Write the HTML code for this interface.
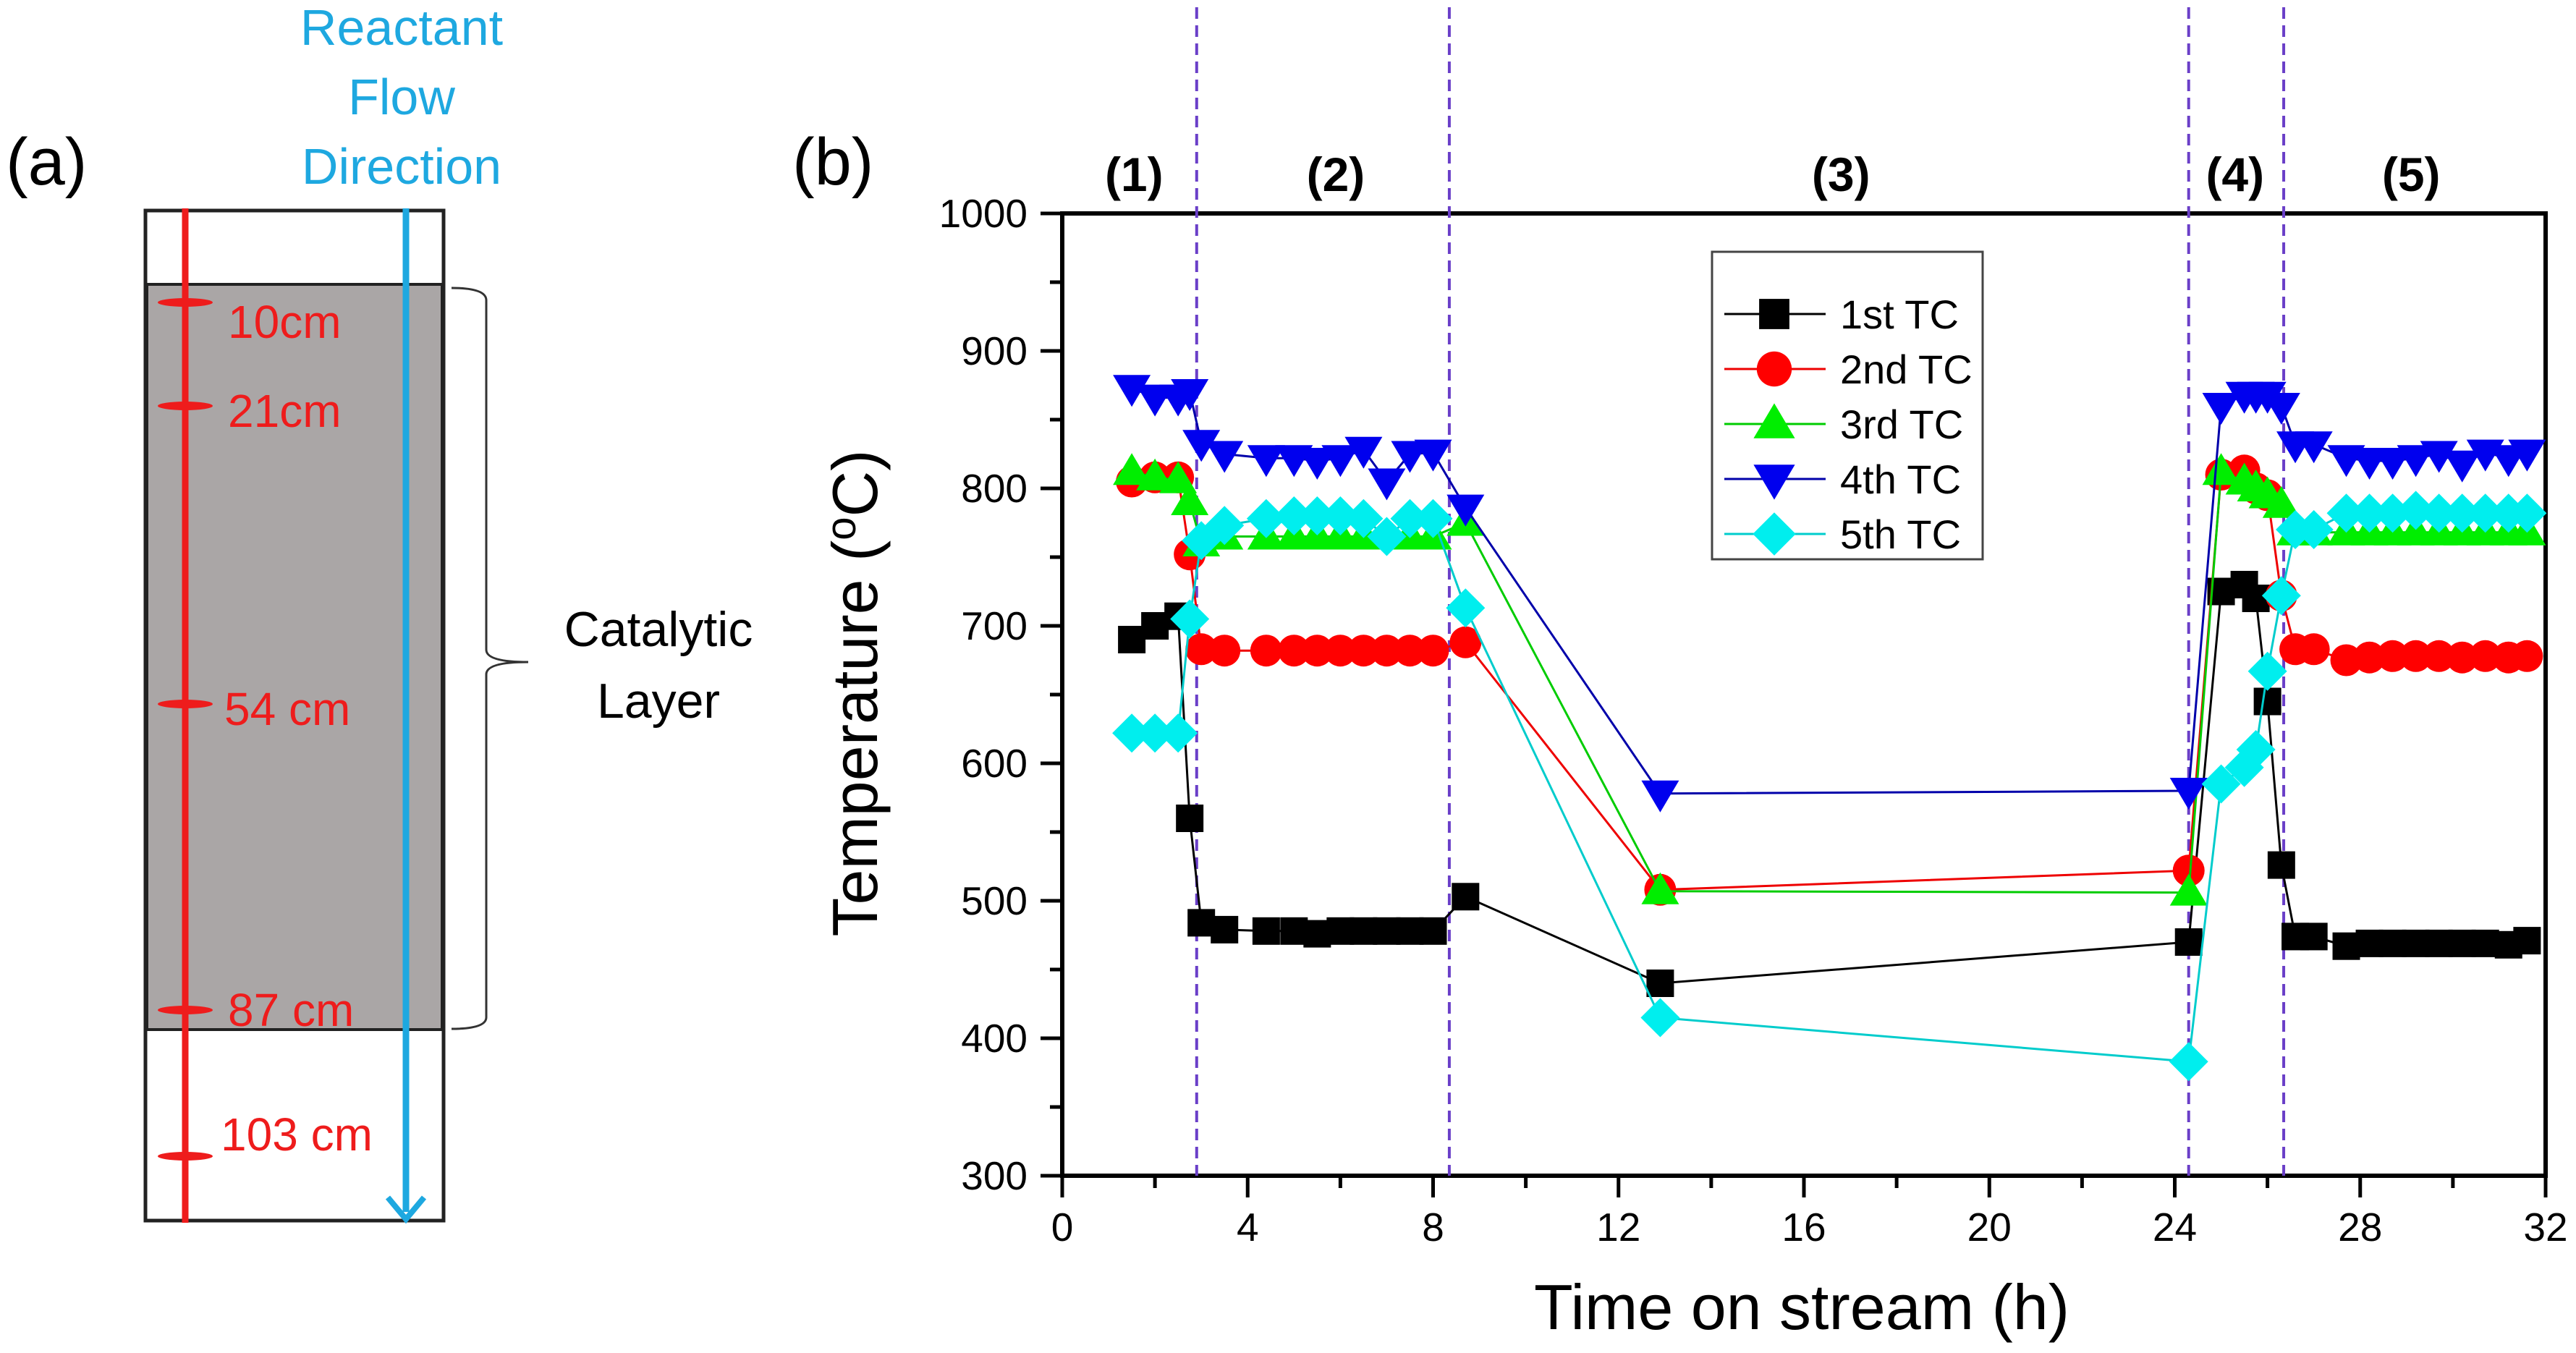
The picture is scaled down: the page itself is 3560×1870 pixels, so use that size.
<!DOCTYPE html>
<html><head><meta charset="utf-8"><style>
html,body{margin:0;padding:0;background:#fff;}
svg{display:block;font-family:"Liberation Sans",sans-serif;}
</style></head><body>
<svg id="fig" width="3560" height="1870" viewBox="0 0 3560 1870" xmlns="http://www.w3.org/2000/svg">
<g>
  <text x="8" y="255" font-size="92">(a)</text>
  <text x="555" y="62" font-size="70" fill="#1ea8e0" text-anchor="middle">Reactant</text>
  <text x="555" y="158" font-size="70" fill="#1ea8e0" text-anchor="middle">Flow</text>
  <text x="555" y="254" font-size="70" fill="#1ea8e0" text-anchor="middle">Direction</text>
  <rect x="201" y="291" width="412" height="1396" fill="#fff" stroke="#222" stroke-width="5"/>
  <rect x="203" y="393" width="408" height="1030" fill="#aaa6a6" stroke="#222" stroke-width="4"/>
  <line x1="256" y1="288" x2="256" y2="1690" stroke="#ee1c1c" stroke-width="9"/>
  <line x1="561" y1="288" x2="561" y2="1675" stroke="#1ea8e0" stroke-width="9"/>
  <polyline points="536,1655 561,1685 586,1655" fill="none" stroke="#1ea8e0" stroke-width="8"/>
  <g fill="#ee1c1c">
    <ellipse cx="256" cy="418" rx="38" ry="6"/>
    <ellipse cx="256" cy="561" rx="38" ry="6"/>
    <ellipse cx="256" cy="973" rx="38" ry="6"/>
    <ellipse cx="256" cy="1396" rx="38" ry="6"/>
    <ellipse cx="256" cy="1598" rx="38" ry="6"/>
  </g>
  <g fill="#ee1c1c" font-size="64">
    <text x="315" y="467">10cm</text>
    <text x="315" y="590">21cm</text>
    <text x="310" y="1002">54 cm</text>
    <text x="315" y="1418">87 cm</text>
    <text x="305" y="1590">103 cm</text>
  </g>
  <path d="M624,398 Q672,398 672,415 L672,898 Q672,915 730,915 Q672,915 672,932 L672,1406 Q672,1422 624,1422" fill="none" stroke="#333" stroke-width="3"/>
  <text x="910" y="893" font-size="68" text-anchor="middle">Catalytic</text>
  <text x="910" y="992" font-size="68" text-anchor="middle">Layer</text>
</g>
<g id="panelb">
  <text x="1095" y="255" font-size="92">(b)</text>
</g>
</svg>
<script>
const times = [1.5,2.0,2.5,2.75,3.0,3.5,4.4,5.0,5.5,6.0,6.5,7.0,7.5,8.0,8.7,12.9,24.3,25.0,25.5,25.75,26.0,26.3,26.6,27.0,27.7,28.2,28.7,29.2,29.7,30.2,30.7,31.2,31.6];
const tc1 = [690,700,707,560,484,479,478,478,476,478,478,478,478,478,503,440,470,725,730,720,645,526,474,474,467,469,469,469,469,469,469,468,471];
const tc2 = [805,808,808,752,683,682,682,682,682,682,682,682,682,682,688,508,522,810,813,800,795,722,683,683,675,677,678,678,678,677,678,677,678];
const tc3 = [812,808,806,790,760,765,765,765,765,765,765,765,765,765,775,507,506,812,805,800,795,788,768,768,768,768,768,768,768,768,768,768,768];
const tc4 = [873,866,866,870,833,825,822,822,820,822,828,805,825,826,786,578,580,860,868,868,868,860,832,832,822,820,820,822,825,818,826,822,826];
const tc5 = [622,622,622,705,762,773,778,780,780,780,778,765,778,778,713,415,383,585,597,610,667,722,770,770,782,782,782,784,782,782,782,782,782];
const seriesNames = ["1st TC","2nd TC","3rd TC","4th TC","5th TC"];
const phaseBounds = [2.9,8.35,24.3,26.35];
const phaseLabels = ["(1)","(2)","(3)","(4)","(5)"];
const phaseCenters = [1.55,5.9,16.8,25.3,29.1];
const xTicks = [0,4,8,12,16,20,24,28,32];
const yTicks = [300,400,500,600,700,800,900,1000];

const NS="http://www.w3.org/2000/svg";
const X0=1468,X1=3518,Y0=1625,Y1=295;
const xs=v=>X0+(v-0)/(32-0)*(X1-X0);
const ys=v=>Y0-(v-300)/(1000-300)*(Y0-Y1);
const g=document.getElementById('panelb');
function mk(tag,attrs,parent){const e=document.createElementNS(NS,tag);for(const k in attrs)e.setAttribute(k,attrs[k]);(parent||g).appendChild(e);return e;}
const colors=["#000000","#ff0000","#00ee00","#0000ee","#00eeee"];
const lineColors=["#000000","#ee0000","#00cc00","#0000aa","#00cccc"];
const shapes=["square","circle","up","down","diamond"];
function marker(shape,cx,cy,color,parent,s){
  s=s||1;
  let e;
  if(shape==="square")e=mk('rect',{x:cx-19*s,y:cy-19*s,width:38*s,height:38*s,fill:color},parent);
  else if(shape==="circle")e=mk('circle',{cx:cx,cy:cy,r:22*s,fill:color},parent);
  else if(shape==="up")e=mk('polygon',{points:`${cx},${cy-26*s} ${cx-26*s},${cy+18*s} ${cx+26*s},${cy+18*s}`,fill:color},parent);
  else if(shape==="down")e=mk('polygon',{points:`${cx},${cy+26*s} ${cx-26*s},${cy-18*s} ${cx+26*s},${cy-18*s}`,fill:color},parent);
  else e=mk('polygon',{points:`${cx},${cy-27*s} ${cx+27*s},${cy} ${cx},${cy+27*s} ${cx-27*s},${cy}`,fill:color},parent);
  return e;
}
const frame=mk('rect',{x:X0,y:Y1,width:X1-X0,height:Y0-Y1,fill:"none",stroke:"#000",'stroke-width':6});


yTicks.forEach((v,i)=>{
  const t=mk('line',{x1:X0-30,x2:X0,y1:ys(v),y2:ys(v),stroke:"#000",'stroke-width':5});
  
  
  if(i<yTicks.length-1){const m=mk('line',{x1:X0-17,x2:X0,y1:ys(v+50),y2:ys(v+50),stroke:"#000",'stroke-width':5});
    
    }
  const l=mk('text',{x:1420,y:ys(v)+19,'font-size':55,'text-anchor':'end'});l.textContent=v;
  
  
});
xTicks.forEach((v,i)=>{
  const t=mk('line',{x1:xs(v),x2:xs(v),y1:Y0,y2:Y0+30,stroke:"#000",'stroke-width':5});
  
  
  if(i<xTicks.length-1){const m=mk('line',{x1:xs(v+2),x2:xs(v+2),y1:Y0,y2:Y0+17,stroke:"#000",'stroke-width':5});
    
    }
  const l=mk('text',{x:xs(v),y:1715,'font-size':55,'text-anchor':'middle'});l.textContent=v;
  
  
});
const xt=mk('text',{x:2490,y:1837,'font-size':88,'text-anchor':'middle'});xt.textContent="Time on stream (h)";


const yt=mk('text',{x:0,y:0,'font-size':88,'text-anchor':'middle',transform:'translate(1212,958) rotate(-90)'});
yt.innerHTML='Temperature (<tspan font-size="58" dy="-30">o</tspan><tspan dy="30">C)</tspan>';


phaseBounds.forEach(b=>{
  const d=mk('line',{x1:xs(b),x2:xs(b),y1:10,y2:Y0,stroke:"#6a3fc8",'stroke-width':4,'stroke-dasharray':'16,9'});
  
  
});
phaseLabels.forEach((p,i)=>{
  const t=mk('text',{x:xs(phaseCenters[i]),y:264,'font-size':66,'font-weight':'bold','text-anchor':'middle'});t.textContent=p;
  
  
});
[tc1,tc2,tc3,tc4,tc5].forEach((vals,si)=>{
  const sg=mk('g',{});
  
  
  const pl=mk('polyline',{points:vals.map((v,i)=>xs(times[i])+','+ys(v)).join(' '),fill:'none',stroke:lineColors[si],'stroke-width':3},sg);
  
  
  vals.forEach((v,i)=>{
    const m=marker(shapes[si],xs(times[i]),ys(v),colors[si],sg);
    
    
  });
});
const lg=mk('g',{});


const lb=mk('rect',{x:2366,y:348,width:374,height:425,fill:'#fff',stroke:'#444','stroke-width':3},lg);


seriesNames.forEach((n,i)=>{
  const cy=434+i*76;
  const eg=mk('g',{},lg);
  
  
  mk('line',{x1:2383,x2:2523,y1:cy,y2:cy,stroke:lineColors[i],'stroke-width':3},eg);
  marker(shapes[i],2452,cy,colors[i],eg,1.1);
  const t=mk('text',{x:2543,y:cy+20,'font-size':56},eg);t.textContent=n;
});
</script>
</body></html>
